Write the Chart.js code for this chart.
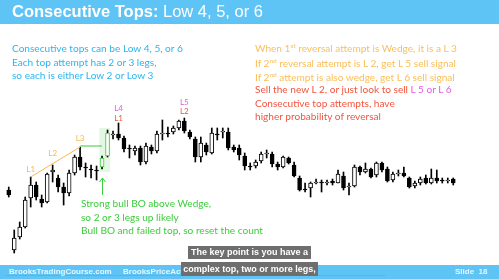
<!DOCTYPE html>
<html>
<head>
<meta charset="utf-8">
<script src="https://cdn.jsdelivr.net/npm/chart.js@4.4.1/dist/chart.umd.min.js"></script>
<style>
html, body { margin: 0; padding: 0; background: #fff; }
#wrap { position: relative; width: 499px; height: 279px; overflow: hidden; font-family: Lato, sans-serif; }
#c { position: absolute; left: 0; top: 0; }
.t { position: absolute; white-space: nowrap; }
.band { position: absolute; left: 0; width: 499px; background: #5ec4f6; }
.sup { font-size: 6.5px; position: relative; top: -4px; }
.cap { position: absolute; background: #6e6e6e; color: #fff; font: bold 9px "Liberation Sans", Arial, sans-serif; text-align: center; }
</style>
</head>
<body>
<div id="wrap">
  <canvas id="c" width="499" height="279"></canvas>

  <div class="band" style="top:0;height:24px;"></div>
  <div class="t" style="left:12px;top:2px;font:16.5px 'Liberation Sans',Arial,sans-serif;color:#fff;"><b>Consecutive Tops:</b> Low 4, 5, or 6</div>

  <div class="t" style="left:12px;top:42px;font-size:10.1px;line-height:13.5px;color:#2cb5ef;">
    Consecutive tops can be Low 4, 5, or 6<br>
    Each top attempt has 2 or 3 legs,<br>
    so each is either Low 2 or Low 3
  </div>

  <div class="t" style="left:255px;top:42px;font-size:10.1px;line-height:12.5px;color:#f9bf5a;">
    When 1<span class="sup">st</span> reversal attempt is Wedge, it is a L 3<br>
    If 2<span class="sup">nd</span> reversal attempt is L 2, get L 5 sell signal<br>
    If 2<span class="sup">nd</span> attempt is also wedge, get L 6 sell signal
  </div>

  <div class="t" style="left:255px;top:83px;font-size:10.1px;line-height:13.5px;color:#f2553f;">
    Sell the new L 2, or just look to sell <span style="color:#e45be6;">L 5 or L 6</span><br>
    Consecutive top attempts, have<br>
    higher probability of reversal
  </div>

  <div class="t" style="left:81px;top:197px;font-size:10.1px;line-height:13.5px;color:#3dcc3d;">
    Strong bull BO above Wedge,<br>
    so 2 or 3 legs up likely<br>
    Bull BO and failed top, so reset the count
  </div>

  <div class="band" style="top:265px;height:14px;"></div>
  <div style="position:absolute;left:5px;top:275px;width:380px;height:1px;background:#e8826e;"></div>
  <div class="t" style="left:9px;top:267px;font:bold 8px 'Liberation Sans',Arial,sans-serif;color:#e6f5fd;">BrooksTradingCourse.com</div>
  <div class="t" style="left:123px;top:267px;font:bold 8px 'Liberation Sans',Arial,sans-serif;color:#e6f5fd;">BrooksPriceAction</div>
  <div class="t" style="left:455px;top:267px;font:bold 8px 'Liberation Sans',Arial,sans-serif;color:#e6f5fd;">Slide&nbsp; 18</div>

  <div class="cap" style="left:188px;top:246px;width:123px;height:13px;line-height:13px;">The key point is you have a</div>
  <div class="cap" style="left:181px;top:262px;width:137px;height:14px;line-height:14px;">complex top, two or more legs,</div>
</div>

<script>
// price bars (arbitrary price units)
const opens  = [110, 50, 63, 73,102,115,101, 98,128,122,113,107,127,143,133,131,130,133,144,165,
                166,162,152,149,152,138,153,149,166,167,168,172,179,168,161,143,155,147,166,168,
                168,153,152,144,134,134,139,146,146,136,133,142,135,122,111,112,117,118,117,119,
                117,124,113,114,133,128,131,125,137,131,120,126,127,122,114,117,122,117,122,120,
                119,121];
const highs  = [113, 70, 78,103,123,118,105,127,135,125,117,130,145,153,137,135,134,144,170,169,
                177,164,155,154,154,157,155,169,180,173,174,180,182,170,163,163,157,172,172,172,
                172,155,155,147,137,140,148,150,148,138,144,143,138,124,117,118,121,120,120,121,
                130,128,117,135,134,137,132,138,138,133,128,130,133,123,119,123,125,131,130,122,
                122,122];
const lows   = [103, 47, 61, 72, 93,100, 93, 97,118,108, 95,104,125,130,123,122,120,131,143,161,
                160,148,142,145,135,136,146,147,160,163,166,170,167,161,138,138,145,146,160,162,
                150,148,140,130,130,132,137,142,133,130,132,136,123,109,108,103,116,108,115,115,
                117,110,105,113,125,127,122,123,128,118,118,124,123,112,112,115,116,116,117,117,
                117,115];
const closes = [105, 62, 73,100,115,103, 97,126,130,113,107,127,143,133,132,130,129,142,167,166,
                162,151,151,152,138,154,149,166,167,166,172,179,169,163,143,157,148,167,165,169,
                152,150,145,134,133,138,146,147,136,133,143,137,124,110,110,117,118,117,118,117,
                126,112,114,133,128,131,123,137,130,119,126,127,124,113,117,121,117,122,119,119,
                120,117];

// wedge (orange) and breakout level (green)
const wedgeLine = { 4: 123, 13: 153 };
const boLine = { 13: 154, 17: 154 };
const boBars = [17, 18];
const boBox = [128, 172];
const boArrow = [105, 122];

// bar labels
const barLabels = [
  { bar: 4,  text: 'L1', color: '#f9b84a', lift: 8 },
  { bar: 8,  text: 'L2', color: '#f9b84a', lift: 12 },
  { bar: 13, text: 'L3', color: '#f9b84a', lift: 9 },
  { bar: 20, text: 'L1', color: '#f2553f', lift: 5 },
  { bar: 20, text: 'L4', color: '#e45be6', lift: 15 },
  { bar: 32, text: 'L2', color: '#f2553f', lift: 7 },
  { bar: 32, text: 'L5', color: '#e45be6', lift: 16 }
];

const labels = opens.map((_, i) => i);
const wicks = labels.map(i => [lows[i], highs[i]]);
const bodies = labels.map(i => {
  let a = Math.min(opens[i], closes[i]);
  let b = Math.max(opens[i], closes[i]);
  if (b - a < 1) b = a + 1;
  return [a, b];
});
const bodyFill = labels.map(i => closes[i] >= opens[i] ? '#ffffff' : '#000000');
const bodyEdge = labels.map(i => boBars.includes(i) ? '#3dcc3d' : '#000000');

function sparse(obj) {
  return labels.map(i => obj[i] !== undefined ? obj[i] : null);
}

const overlay = {
  id: 'overlay',
  beforeDatasetsDraw(chart) {
    const ctx = chart.ctx;
    const xs = chart.scales.x, ys = chart.scales.y;
    const half = (xs.getPixelForValue(1) - xs.getPixelForValue(0)) / 2;
    const x0 = xs.getPixelForValue(boBars[0]) - half;
    const x1 = xs.getPixelForValue(boBars[boBars.length - 1]) + half;
    const y0 = ys.getPixelForValue(boBox[1]);
    const y1 = ys.getPixelForValue(boBox[0]);
    ctx.save();
    ctx.fillStyle = '#e4f7e4';
    ctx.fillRect(x0, y0, x1 - x0, y1 - y0);
    ctx.restore();
  },
  afterDatasetsDraw(chart) {
    const ctx = chart.ctx;
    const xs = chart.scales.x, ys = chart.scales.y;
    ctx.save();
    // arrow under the breakout bar
    const ax = Math.round(xs.getPixelForValue(boBars[0])) + 0.5;
    const yTop = ys.getPixelForValue(boArrow[1]);
    const yBot = ys.getPixelForValue(boArrow[0]);
    ctx.strokeStyle = '#3dcc3d';
    ctx.lineWidth = 1;
    ctx.beginPath();
    ctx.moveTo(ax, yBot);
    ctx.lineTo(ax, yTop);
    ctx.moveTo(ax - 3, yTop + 4);
    ctx.lineTo(ax, yTop);
    ctx.lineTo(ax + 3, yTop + 4);
    ctx.stroke();
    // L labels
    ctx.font = '8px Lato, sans-serif';
    ctx.textAlign = 'center';
    ctx.textBaseline = 'middle';
    barLabels.forEach(l => {
      ctx.fillStyle = l.color;
      ctx.fillText(l.text, xs.getPixelForValue(l.bar), ys.getPixelForValue(highs[l.bar]) - l.lift);
    });
    ctx.restore();
  }
};

new Chart(document.getElementById('c'), {
  type: 'bar',
  data: {
    labels: labels,
    datasets: [
      {
        type: 'line',
        data: sparse(wedgeLine),
        borderColor: '#f9b84a',
        borderWidth: 1,
        pointRadius: 0,
        spanGaps: true,
        order: 0
      },
      {
        type: 'line',
        data: sparse(boLine),
        borderColor: '#3dcc3d',
        borderWidth: 1,
        pointRadius: 0,
        spanGaps: true,
        order: 0
      },
      {
        data: bodies,
        backgroundColor: bodyFill,
        borderColor: bodyEdge,
        borderWidth: 1,
        borderSkipped: false,
        barThickness: 4,
        grouped: false,
        order: 1
      },
      {
        data: wicks,
        backgroundColor: '#000000',
        barThickness: 1,
        grouped: false,
        order: 2
      }
    ]
  },
  options: {
    responsive: false,
    animation: false,
    layout: { padding: { left: 6, right: 43, top: 90, bottom: 19 } },
    plugins: { legend: { display: false }, tooltip: { enabled: false } },
    scales: {
      x: { display: false, offset: true },
      y: { display: false, min: 40, max: 210 }
    }
  },
  plugins: [overlay]
});
</script>
</body>
</html>
